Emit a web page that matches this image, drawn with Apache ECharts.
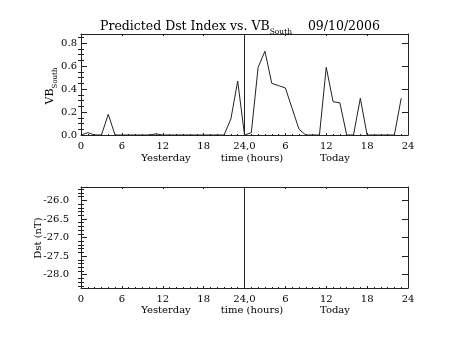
<!DOCTYPE html>
<html><head><meta charset="utf-8">
<script src="https://cdn.jsdelivr.net/npm/echarts@6/dist/echarts.min.js"></script>
<style>html,body{margin:0;padding:0;background:#fff}#c{width:453px;height:340px}</style>
</head><body><div id="c"></div>
<script>
// ---- data ----
const hours = [0,1,2,3,4,5,6,7,8,9,10,11,12,13,14,15,16,17,18,19,20,21,22,23,
               24,25,26,27,28,29,30,31,32,33,34,35,36,37,38,39,40,41,42,43,44,45,46,47];
const vbSouth = [0,0.02,0,0,0.18,0,0,0,0,0,0,0.01,0,0,0,0,0,0,0,0,0,0,0.14,0.47,
                 0,0.02,0.59,0.73,0.45,0.43,0.41,0.23,0.05,0,0,0,0.59,0.29,0.28,0,0,0.32,0,0,0,0,0,0.32];
const xTickLabels = ['0','6','12','18','24,0','6','12','18','24'];
const vbMajorTicks = [0,0.2,0.4,0.6,0.8];
const vbMinorTicks = [0.05,0.1,0.15,0.25,0.3,0.35,0.45,0.5,0.55,0.65,0.7,0.75,0.85];
const dstMajorTicks = [-28,-27.5,-27,-26.5,-26];
const dstMinorTicks = [-28.3,-28.2,-28.1,-27.9,-27.8,-27.7,-27.6,-27.4,-27.3,-27.2,-27.1,
                       -26.9,-26.8,-26.7,-26.6,-26.4,-26.3,-26.2,-26.1,-25.9,-25.8,-25.7];
const vbRange = [0, 0.88];
const dstRange = [-28.36, -25.64];
const dayBoundary = 24;

// ---- chart ----
const FONT = 'DejaVu Serif';
const INK = '#222';
const chart = echarts.init(document.getElementById('c'), null, {renderer: 'canvas'});

function xAxes(gridIndex) {
  const base = {
    type: 'value', gridIndex, min: 0, max: 48, interval: 6,
    axisLine: {show: true, onZero: false, lineStyle: {color: INK, width: 1}},
    axisTick: {show: true, inside: true, length: 2, lineStyle: {color: INK, width: 1}},
    minorTick: {show: true, splitNumber: 6, length: 1, lineStyle: {color: INK, width: 1}},
    splitLine: {show: false}
  };
  return [
    Object.assign({}, base, {position: 'bottom', axisLabel: {show: true, margin: 6, fontFamily: FONT, fontSize: 10, color: '#000',
      showMinLabel: true, showMaxLabel: true,
      formatter: v => xTickLabels[Math.round(v / 6)]}}),
    Object.assign({}, base, {position: 'top', axisLabel: {show: false}})
  ];
}
function yAxes(gridIndex, range, major, minor, margin) {
  const common = {type: 'value', gridIndex, min: range[0], max: range[1], splitLine: {show: false}, minorTick: {show: false}};
  const line = {show: true, onZero: false, lineStyle: {color: INK, width: 1}};
  return [
    Object.assign({}, common, {position: 'left', axisLine: line,
      axisTick: {show: true, inside: true, length: 6, customValues: major, lineStyle: {color: INK}},
      axisLabel: {show: true, customValues: major, formatter: v => v.toFixed(1), fontFamily: FONT, fontSize: 10, color: '#000', margin: margin}}),
    Object.assign({}, common, {position: 'left', axisLine: {show: false},
      axisTick: {show: true, inside: true, length: 3, customValues: minor, lineStyle: {color: INK}},
      axisLabel: {show: false}}),
    Object.assign({}, common, {position: 'right', axisLine: line,
      axisTick: {show: true, inside: true, length: 6, customValues: major, lineStyle: {color: INK}},
      axisLabel: {show: false}}),
    Object.assign({}, common, {position: 'right', axisLine: {show: false},
      axisTick: {show: true, inside: true, length: 3, customValues: minor, lineStyle: {color: INK}},
      axisLabel: {show: false}})
  ];
}

const vbData = hours.map((h, i) => [h, vbSouth[i]]);
const dayLine = {
  silent: true, symbol: ['none', 'none'], label: {show: false},
  lineStyle: {color: INK, width: 1, type: 'solid'},
  data: [{xAxis: dayBoundary}]
};

const option = {
  animation: false,
  backgroundColor: '#fff',
  title: {
    left: 95, top: 13,
    text: '{a|Predicted Dst Index vs. VB}{s|South}{a|    09/10/2006}',
    textStyle: {
      fontWeight: 'normal',
      rich: {
        a: {fontFamily: FONT, fontSize: 12.5, fontWeight: 'normal', color: '#000', lineHeight: 18, verticalAlign: 'middle'},
        s: {fontFamily: FONT, fontSize: 7.5, fontWeight: 'normal', color: '#000', lineHeight: 8, padding: [10, 0, 0, 0], verticalAlign: 'top'}
      }
    }
  },
  grid: [
    {left: 81, top: 34, width: 327, height: 101, containLabel: false},
    {left: 81, top: 187, width: 327, height: 101, containLabel: false}
  ],
  xAxis: [].concat(xAxes(0), xAxes(1)),
  yAxis: [].concat(yAxes(0, vbRange, vbMajorTicks, vbMinorTicks, 4), yAxes(1, dstRange, dstMajorTicks, dstMinorTicks, 12)),
  series: [
    {type: 'line', xAxisIndex: 0, yAxisIndex: 0, data: vbData, showSymbol: false, symbol: 'none',
     lineStyle: {color: INK, width: 1}, markLine: dayLine},
    {type: 'line', xAxisIndex: 2, yAxisIndex: 4, data: [], showSymbol: false, symbol: 'none',
     lineStyle: {color: INK, width: 1}, markLine: dayLine}
  ],
  graphic: [
    {type: 'text', x: 166, y: 158, style: {text: 'Yesterday', font: '10px "DejaVu Serif"', fill: '#000', textAlign: 'center', textVerticalAlign: 'middle'}},
    {type: 'text', x: 252, y: 158, style: {text: 'time (hours)', font: '10px "DejaVu Serif"', fill: '#000', textAlign: 'center', textVerticalAlign: 'middle'}},
    {type: 'text', x: 335, y: 158, style: {text: 'Today', font: '10px "DejaVu Serif"', fill: '#000', textAlign: 'center', textVerticalAlign: 'middle'}},
    {type: 'text', x: 166, y: 310, style: {text: 'Yesterday', font: '10px "DejaVu Serif"', fill: '#000', textAlign: 'center', textVerticalAlign: 'middle'}},
    {type: 'text', x: 252, y: 310, style: {text: 'time (hours)', font: '10px "DejaVu Serif"', fill: '#000', textAlign: 'center', textVerticalAlign: 'middle'}},
    {type: 'text', x: 335, y: 310, style: {text: 'Today', font: '10px "DejaVu Serif"', fill: '#000', textAlign: 'center', textVerticalAlign: 'middle'}},
    {type: 'text', x: 50, y: 86, rotation: Math.PI / 2,
     style: {text: '{a|VB}{s|South}', textAlign: 'center', textVerticalAlign: 'middle', fill: '#000',
       rich: {
         a: {fontFamily: FONT, fontSize: 11, fill: '#000', lineHeight: 18, verticalAlign: 'middle'},
         s: {fontFamily: FONT, fontSize: 7, fill: '#000', lineHeight: 8, verticalAlign: 'bottom'}
       }}},
    {type: 'text', x: 38, y: 238, rotation: Math.PI / 2,
     style: {text: 'Dst (nT)', font: '10px "DejaVu Serif"', fill: '#000', textAlign: 'center', textVerticalAlign: 'middle'}}
  ]
};
chart.setOption(option);
</script>
</body></html>
